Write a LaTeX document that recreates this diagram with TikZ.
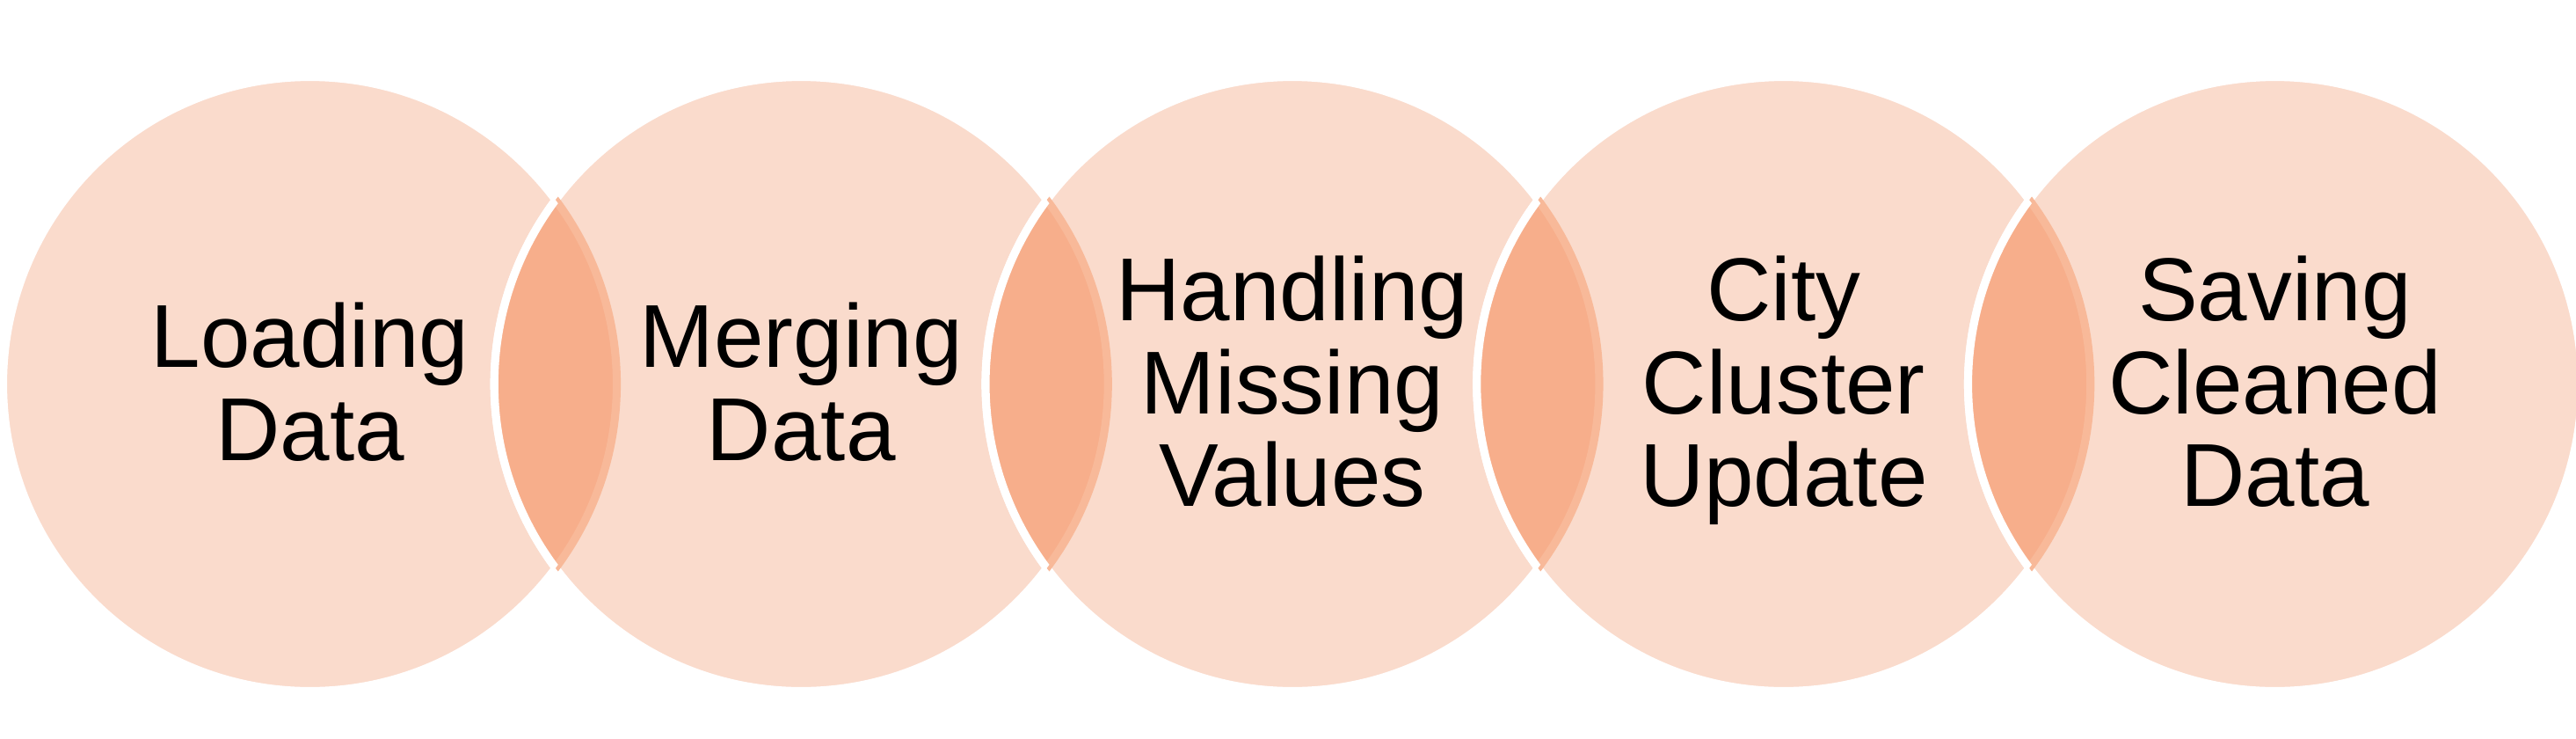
\documentclass[tikz,border=0pt]{standalone}
\usepackage{fontspec}
\setmainfont{Liberation Sans}
\usetikzlibrary{calc}
\definecolor{vennfill}{HTML}{FADBCC}
\definecolor{lensfill}{HTML}{F7AE8B}
\definecolor{lensrim}{HTML}{F8B999}
\newcommand*{\vrad }{3.49cm}
\newcommand*{\vdiam}{6.98cm}
\newcommand*{\vstep}{5.5875}
\newcommand*{\rimw }{2.6pt}

\begin{document}
\begin{tikzpicture}[
        stage/.style={circle, minimum size=\vdiam, inner sep=0pt, fill=vennfill, draw=white, line width=\rimw,
                      align=center, text depth=0.17em, font=\fontsize{28.9}{30}\selectfont},
    ]
    \useasboundingbox (0,0) rectangle (29.3,8.39);
        \node [stage] (load)  at (3.525,4.025)        {Loading\\Data};
        \node [stage] (merge) at ($(load)+(\vstep,0)$)  {Merging\\Data};
        \node [stage] (miss)  at ($(merge)+(\vstep,0)$) {Handling\\Missing\\Values};
        \node [stage] (city)  at ($(miss)+(\vstep,0)$)  {City\\Cluster\\Update};
        \node [stage] (save)  at ($(city)+(\vstep,0)$)  {Saving\\Cleaned\\Data};
        % overlaps
        \foreach \a/\b in {load/merge, merge/miss, miss/city, city/save} {
            \begin{scope}
                \clip (\a) circle (\vrad);
                \fill [lensfill] (\b) circle (\vrad);
            \end{scope}
            \begin{scope}
                \clip (\b) circle (\vrad);
                \draw [lensrim, line width=\rimw] (\a) circle (\vrad);
            \end{scope}
            \begin{scope}
                \clip (\a) circle (\vrad);
                \draw [white, line width=\rimw] (\b) circle (\vrad);
            \end{scope}
        }
    \end{tikzpicture}
\end{document}
